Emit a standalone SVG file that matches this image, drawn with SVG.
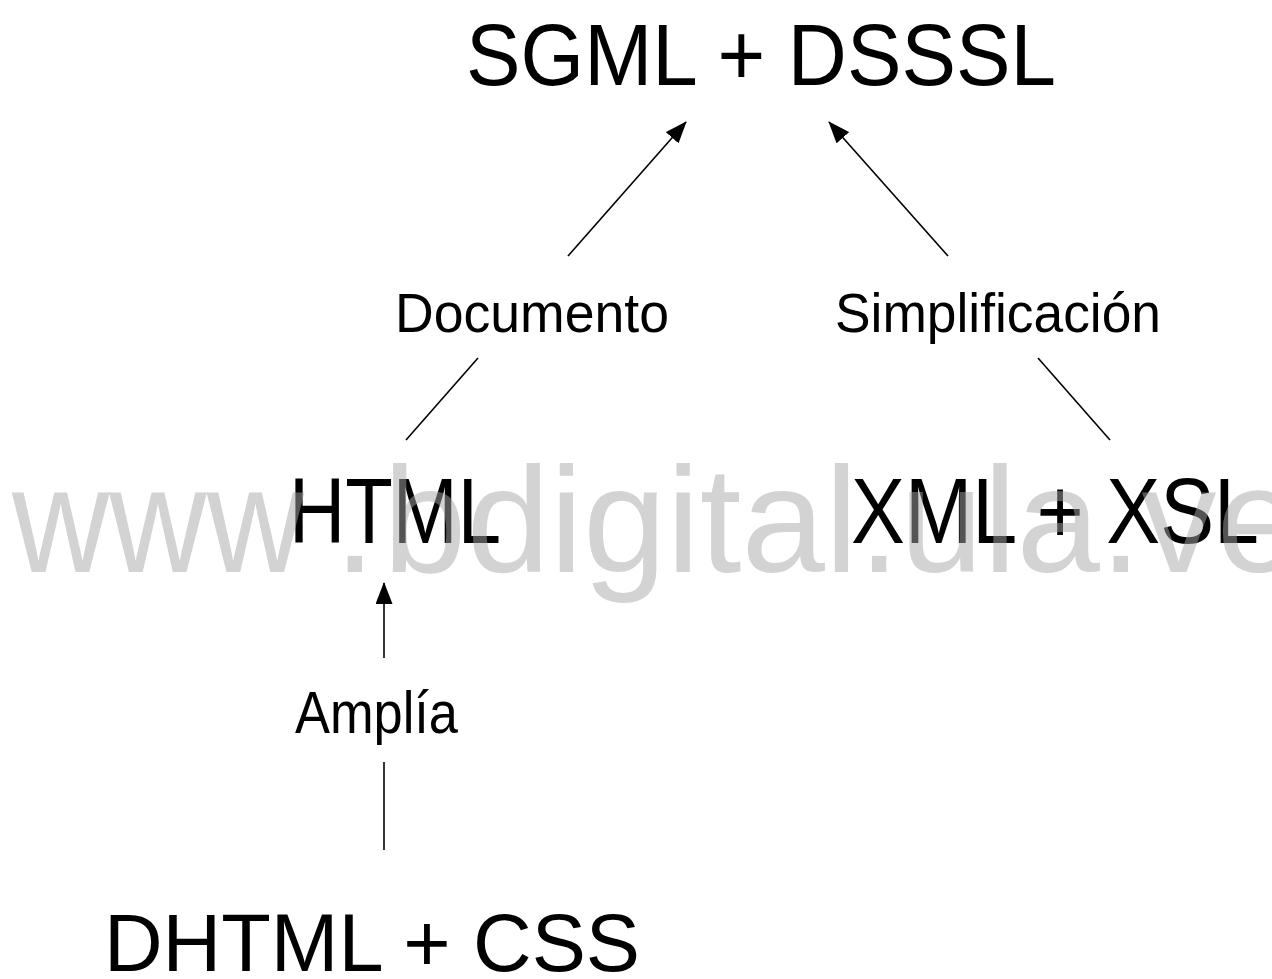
<svg xmlns="http://www.w3.org/2000/svg" width="1272" height="979" viewBox="0 0 1272 979">
  <style>
    .lbl { font-family: "Liberation Sans", Arial, sans-serif; fill: #000; }
    .edge { stroke: #000; stroke-width: 1.6; fill: none; }
    .wm { font-family: "Liberation Sans", Arial, sans-serif; font-size: 150px; fill: #a8a8a8; fill-opacity: 0.5; }
  </style>
  <defs>
    <marker id="head" markerUnits="userSpaceOnUse" markerWidth="22" markerHeight="17" refX="21" refY="8.5" orient="auto">
      <path d="M0,0 L22,8.5 L0,17 Z" fill="#000"/>
    </marker>
  </defs>
  <rect width="1272" height="979" fill="#fff"/>

  <!-- connectors -->
  <g id="connectors">
    <line class="edge" x1="568" y1="256" x2="686" y2="122" marker-end="url(#head)"/>
    <line class="edge" x1="948" y1="256" x2="829" y2="122" marker-end="url(#head)"/>
    <line class="edge" x1="478" y1="358" x2="406" y2="440"/>
    <line class="edge" x1="1038" y1="358" x2="1110" y2="440"/>
    <line class="edge" x1="384" y1="658" x2="384" y2="583" marker-end="url(#head)"/>
    <line class="edge" x1="384" y1="762" x2="384" y2="850"/>
  </g>

  <!-- nodes -->
  <g id="sgml">
    <text class="lbl" x="466" y="85" font-size="88" textLength="590" lengthAdjust="spacingAndGlyphs">SGML + DSSSL</text>
  </g>
  <g id="label-documento">
    <text class="lbl" x="395" y="332" font-size="56" textLength="274" lengthAdjust="spacingAndGlyphs">Documento</text>
  </g>
  <g id="label-simplificacion">
    <text class="lbl" x="835" y="332" font-size="56" textLength="326" lengthAdjust="spacingAndGlyphs">Simplificación</text>
  </g>
  <g id="html">
    <text class="lbl" x="289" y="543" font-size="92" textLength="212" lengthAdjust="spacingAndGlyphs">HTML</text>
  </g>
  <g id="xml">
    <text class="lbl" x="851" y="543" font-size="92" textLength="408" lengthAdjust="spacingAndGlyphs">XML + XSL</text>
  </g>
  <g id="label-amplia">
    <text class="lbl" x="295" y="733" font-size="60" textLength="163" lengthAdjust="spacingAndGlyphs">Amplía</text>
  </g>
  <g id="dhtml">
    <text class="lbl" x="104" y="971" font-size="82" textLength="536" lengthAdjust="spacingAndGlyphs">DHTML + CSS</text>
  </g>

  <!-- site watermark across the middle -->
  <text class="wm" y="572"><tspan x="12" textLength="292" lengthAdjust="spacingAndGlyphs">www</tspan><tspan x="334">.</tspan><tspan x="383" textLength="917" lengthAdjust="spacingAndGlyphs">bdigital.ula.ve</tspan></text>
</svg>
